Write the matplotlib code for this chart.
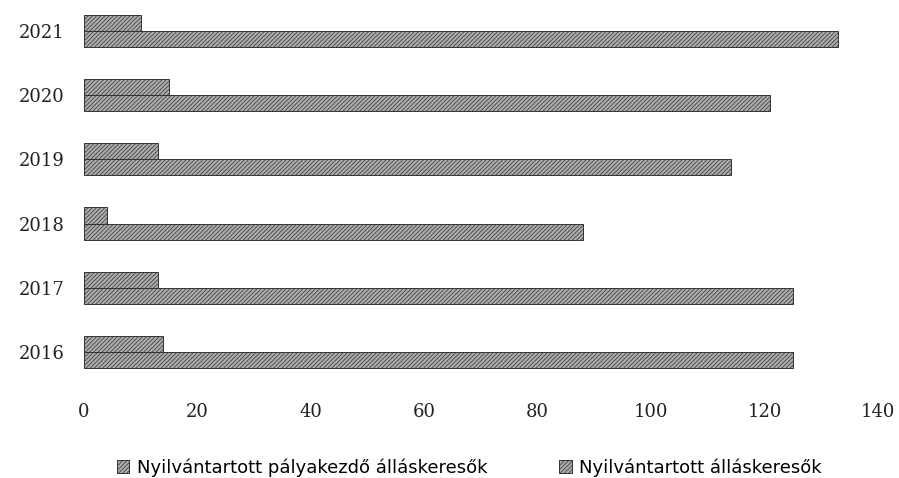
import numpy as np
import matplotlib.pyplot as plt

# data
years = ["2016", "2017", "2018", "2019", "2020", "2021"]
palyakezdo = [14, 13, 4, 13, 15, 10]
osszes = [125, 125, 88, 114, 121, 133]
labels = ["Nyilvántartott pályakezdő álláskeresők", "Nyilvántartott álláskeresők"]
x_ticks = [0, 20, 40, 60, 80, 100, 120, 140]

plt.rcParams['hatch.linewidth'] = 0.5
plt.rcParams['hatch.color'] = '#5a5a5a'

fig = plt.figure(figsize=(8.99, 4.78), dpi=100)
ax = fig.add_axes([0.0934, 0.197, 0.8832, 0.805])

y = np.arange(len(years))
h = 0.25
ax.barh(y + h / 2, palyakezdo, height=h, color='#ababab', edgecolor='#333333',
        linewidth=0.7, hatch='////////', label=labels[0])
ax.barh(y - h / 2, osszes, height=h, color='#ababab', edgecolor='#333333',
        linewidth=0.7, hatch='////////', label=labels[1])

ax.set_xlim(0, 140)
ax.set_ylim(-0.5, len(years) - 0.5)
ax.set_xticks(x_ticks)
ax.set_yticks(y)
ax.set_yticklabels(years)
for s in ax.spines.values():
    s.set_visible(False)
ax.tick_params(length=0, labelsize=13, colors='#222222')
ax.tick_params(axis='y', pad=14)
ax.tick_params(axis='x', pad=14)
for t in ax.get_xticklabels() + ax.get_yticklabels():
    t.set_family('DejaVu Serif')

leg = ax.legend(loc='center', ncol=2, frameon=False,
                prop={'family': 'DejaVu Sans', 'size': 13},
                handlelength=0.7, handleheight=0.7, handletextpad=0.4,
                columnspacing=4.0, borderaxespad=0)
leg.set_bbox_to_anchor((0.522, 0.022), transform=fig.transFigure)

fig.savefig('out.png', dpi=100)
